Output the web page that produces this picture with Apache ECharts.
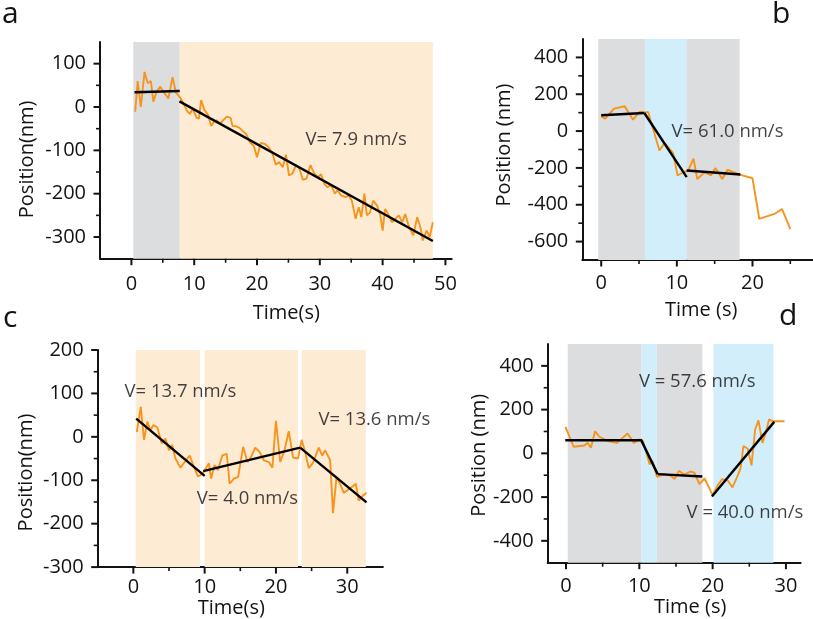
<!DOCTYPE html>
<html><head><meta charset="utf-8">
<script src="https://cdn.jsdelivr.net/npm/echarts@6/dist/echarts.min.js"></script>
<style>html,body{margin:0;padding:0;background:#fff}#c{width:813px;height:619px}</style>
</head><body><div id="c"></div>
<script>
// ---------- Panel a ----------
const aTime = [0.6,1.0,1.5,2.1,2.6,3.1,3.5,4.0,4.6,5.2,5.9,6.55,7.1,7.75,8.3,8.9,9.3,9.75,10.4,10.75,11.1,11.6,12.2,12.7,13.1,13.6,14.1,14.6,15.2,15.8,16.1,16.6,17.2,17.7,18.3,18.9,19.5,20.0,20.6,21.2,21.8,22.4,23.0,23.5,24.1,24.6,25.1,25.6,26.2,26.7,27.3,27.9,28.5,29.1,29.7,30.2,30.7,31.2,31.8,32.4,32.8,33.4,34.1,34.6,35.1,35.7,36.2,36.6,37.1,37.5,38.0,38.5,39.1,39.6,40.0,40.4,41.0,41.5,42.0,42.6,43.1,43.6,44.2,44.9,45.5,46.0,46.4,47.0,47.5,48.0];
const aPos  = [-11,60,0,81,55,60,12,35,47,33,20,69,33,22,8,-10,-16,-4,-25,-27,16,-6,-18,-44,-35,-31,-38,-31,-22,-25,-44,-44,-48,-55,-63,-82,-90,-116,-83,-85,-92,-105,-133,-127,-139,-110,-158,-154,-135,-140,-168,-165,-134,-153,-162,-155,-177,-185,-181,-200,-192,-204,-208,-204,-216,-258,-231,-254,-200,-250,-243,-216,-227,-247,-285,-235,-250,-266,-258,-250,-266,-247,-277,-296,-254,-277,-308,-285,-300,-266];
const aFits = [[[0.5,34],[7.7,37]], [[7.65,13],[48.0,-309]]];
const aGrayBands = [[0.3,7.7]];
const aOrangeBands = [[7.7,48.0]];
const aBlueBands = [];
const aLabels = [[35.8,-75,'V= 7.9 nm/s']];
const aXTicks = [0,10,20,30,40,50];
const aYTicks = [-300,-200,-100,0,100];

// ---------- Panel b ----------
const bTime = [0.0,0.5,1.7,3.1,4.2,5.1,5.6,6.2,7.7,8.4,9.5,10.1,10.8,11.5,12.2,12.7,13.7,14.5,15.1,16.0,16.7,18.3,20.0,20.9,22.9,23.9,25.0];
const bPos  = [80,67,122,135,62,106,100,104,-105,-65,-120,-241,-225,-214,-150,-260,-223,-241,-201,-260,-210,-236,-256,-477,-450,-423,-532];
const bFits = [[[0,86],[5.7,98]], [[5.7,98],[11.3,-250]], [[11.3,-214],[18.4,-236]]];
const bGrayBands = [[-0.4,5.8],[11.25,18.3]];
const bOrangeBands = [];
const bBlueBands = [[5.8,11.25]];
const bLabels = [[16.7,-5,'V= 61.0 nm/s']];
const bXTicks = [0,10,20];
const bYTicks = [-600,-400,-200,0,200,400];

// ---------- Panel c ----------
const cTime = [0.48,1.04,1.5,1.97,2.4,2.8,3.36,3.97,4.5,5.0,5.45,5.9,6.6,7.2,7.9,8.5,9.05,9.65,10.3,10.6,10.9,11.4,11.86,12.47,13.1,13.5,14.1,14.7,15.4,16.0,16.4,17.1,17.7,18.3,19.0,19.5,20.0,20.6,21.2,21.8,22.4,23.1,23.6,24.1,24.6,25.2,26.0,26.5,26.9,27.6,28.0,28.5,29.1,29.5,30.1,30.7,31.2,31.6,32.1,32.7];
const cPos  = [11,69,-7,35,15,27,22,-15,-4,-31,-19,-50,-71,-58,-43,-69,-91,-86,-69,-61,-96,-65,-77,-43,-39,-108,-96,-92,-23,-58,-50,-25,-35,-54,-58,-71,37,-58,-31,13,-48,-50,-7,-35,-72,-60,-25,-43,-31,-54,-176,-92,-112,-129,-122,-115,-108,-147,-137,-129];
const cFits = [[[0.4,42],[10.0,-90]], [[9.8,-79],[23.4,-25]], [[23.4,-25],[32.7,-151]]];
const cGrayBands = [];
const cOrangeBands = [[0.33,9.35],[10.0,23.1],[23.6,32.6]];
const cBlueBands = [];
const cLabels = [[6.6,104,'V= 13.7 nm/s'],[16.0,-142,'V= 4.0 nm/s'],[33.8,40,'V= 13.6 nm/s']];
const cXTicks = [0,10,20,30];
const cYTicks = [-300,-200,-100,0,100,200];

// ---------- Panel d ----------
const dTime = [-0.08,1.05,2.5,2.96,3.4,3.96,4.55,5.7,6.96,8.4,9.25,10.0,10.5,11.4,11.8,12.4,13.4,14.3,14.8,15.4,16.1,16.96,17.5,18.2,18.9,20.0,20.7,21.3,22.1,22.7,23.3,23.8,24.2,24.8,25.3,25.8,26.25,26.8,27.3,27.7,28.2,29.8];
const dPos  = [121,30,36,48,26,101,76,56,48,91,48,64,56,-50,-35,-107,-95,-103,-118,-80,-98,-83,-88,-141,-115,-191,-145,-118,-125,-156,-111,-70,33,21,-55,109,151,48,101,155,147,147];
const dFits = [[[-0.1,60],[10.2,60]], [[10.2,64],[12.5,-95]], [[12.5,-95],[18.6,-106]], [[19.9,-197],[28.4,144]]];
const dGrayBands = [[0.23,10.3],[12.4,18.6]];
const dOrangeBands = [];
const dBlueBands = [[10.3,12.4],[20.1,28.3]];
const dLabels = [[17.9,326,'V = 57.6 nm/s'],[24.4,-270,'V = 40.0 nm/s']];
const dXTicks = [0,10,20,30];
const dYTicks = [-400,-200,0,200,400];

const panelLetters = ['a','b','c','d'];

// ---------- styling / layout ----------
const FONT = "'Open Sans','Noto Sans',sans-serif";
const INK = '#141213';
const ORANGE = '#f7941d';
const C_GRAY = '#dcdddf', C_ORANGE = '#fdebd4', C_BLUE = '#d3eefb';

function midsExt(ticks, step, lo, hi){ const r=[]; for(let v=ticks[0]-step/2; v<hi; v+=step){ if(v>lo && !ticks.includes(v)) r.push(v);} return r; }

const panels = [
  {grid:{left:100,top:42,width:351.7,height:216.7}, xr:[-5,51], yr:[-350,150], xt:aXTicks, xs:10, yt:aYTicks, ys:100,
   xName:'Time(s)', yName:'Position(nm)', xGap:45, yGap:63, xMargin:16, xPad:[0,0,0,21], yPad:[0,18,0,0],
   time:aTime,pos:aPos,fits:aFits,labels:aLabels,gray:aGrayBands,orange:aOrangeBands,blue:aBlueBands},
  {grid:{left:582.3,top:39,width:231.2,height:221}, xr:[-2.5,28], yr:[-700,500], xt:bXTicks, xs:10, yt:bYTicks, ys:200,
   xName:'Time (s)', yName:'Position (nm)', xGap:40, yGap:68, xMargin:13, xPad:[0,0,0,7], yPad:[0,0,0,9],
   time:bTime,pos:bPos,fits:bFits,labels:bLabels,gray:bGrayBands,orange:bOrangeBands,blue:bBlueBands},
  {grid:{left:97.7,top:350,width:285.2,height:217.3}, xr:[-5,35], yr:[-300,200], xt:cXTicks, xs:10, yt:cYTicks, ys:100,
   xName:'Time(s)', yName:'Position(nm)', xGap:30, yGap:61, xMargin:10, xPad:[0,18,0,0], yPad:[0,28,0,0],
   time:cTime,pos:cPos,fits:cFits,labels:cLabels,gray:cGrayBands,orange:cOrangeBands,blue:cBlueBands},
  {grid:{left:547.7,top:344,width:252.9,height:218.7}, xr:[-2.5,32], yr:[-500,500], xt:dXTicks, xs:10, yt:dYTicks, ys:200,
   xName:'Time (s)', yName:'Position (nm)', xGap:35, yGap:55, xMargin:14, xPad:[0,0,0,32], yPad:[0,4,0,0],
   time:dTime,pos:dPos,fits:dFits,labels:dLabels,gray:dGrayBands,orange:dOrangeBands,blue:dBlueBands}
];

const grid=[], xAxis=[], yAxis=[], series=[];
panels.forEach((p,i)=>{
  grid.push(Object.assign({containLabel:false}, p.grid));
  const lineStyle = {color:INK, width:2};
  xAxis.push({type:'value', gridIndex:i, position:'bottom', min:p.xr[0], max:p.xr[1],
    name:p.xName, nameLocation:'middle', nameGap:p.xGap,
    nameTextStyle:{fontFamily:FONT,fontSize:20,color:INK,padding:p.xPad},
    axisLine:{show:true,onZero:false,lineStyle}, splitLine:{show:false}, axisTick:{show:false},
    axisLabel:{fontFamily:FONT,fontSize:20,color:INK,margin:p.xMargin,customValues:p.xt}});
  yAxis.push({type:'value', gridIndex:i, position:'left', min:p.yr[0], max:p.yr[1],
    name:p.yName, nameLocation:'middle', nameGap:p.yGap,
    nameTextStyle:{fontFamily:FONT,fontSize:20,color:INK,padding:p.yPad},
    axisLine:{show:true,onZero:false,lineStyle}, splitLine:{show:false}, axisTick:{show:false},
    axisLabel:{fontFamily:FONT,fontSize:20,color:INK,margin:14,customValues:p.yt}});
});

panels.forEach((p,i)=>{
  const areas=[];
  [[p.gray,C_GRAY],[p.orange,C_ORANGE],[p.blue,C_BLUE]].forEach(([arr,col])=>{
    arr.forEach(b=>areas.push([{xAxis:b[0],itemStyle:{color:col,opacity:1}},{xAxis:b[1]}]));
  });
  series.push({type:'line', xAxisIndex:i, yAxisIndex:i, z:2,
    data:p.time.map((t,k)=>[t,p.pos[k]]), showSymbol:false, symbol:'none',
    lineStyle:{color:ORANGE,width:1.9}, silent:true,
    markArea:{silent:true, data:areas, label:{show:false}}});
  p.fits.forEach(seg=>{
    series.push({type:'line', xAxisIndex:i, yAxisIndex:i, z:3, data:seg, showSymbol:false, symbol:'none',
      lineStyle:{color:'#000',width:2.4}, silent:true});
  });
  series.push({type:'scatter', xAxisIndex:i, yAxisIndex:i, z:4, symbolSize:1, itemStyle:{color:'transparent'},
    data:p.labels, silent:true,
    label:{show:true, position:'inside', formatter:q=>q.data[2], fontFamily:FONT, fontSize:18.5, color:INK}});
});

const letterPos = [[2,16],[772,16],[3,320],[779,318]];
const graphic = panelLetters.map((L,i)=>({type:'text', left:letterPos[i][0], top:letterPos[i][1]-17,
  style:{text:L, font:"30px 'Open Sans', sans-serif", fill:INK}}));

const chart = echarts.init(document.getElementById('c'), null, {renderer:'canvas'});
chart.setOption({animation:false, backgroundColor:'#fff', grid, xAxis, yAxis, series, graphic});

// tick marks, placed through the axes' own scales
const ticks=[];
panels.forEach((p,i)=>{
  const y0 = chart.convertToPixel({yAxisIndex:i}, p.yr[0]);
  const x0 = chart.convertToPixel({xAxisIndex:i}, p.xr[0]);
  const addX=(vals,len,w)=>vals.forEach(v=>{ const x=chart.convertToPixel({xAxisIndex:i}, v);
    ticks.push({type:'line', silent:true, z:10, shape:{x1:x,y1:y0,x2:x,y2:y0+len}, style:{stroke:INK,lineWidth:w}}); });
  const addY=(vals,len,w)=>vals.forEach(v=>{ const y=chart.convertToPixel({yAxisIndex:i}, v);
    ticks.push({type:'line', silent:true, z:10, shape:{x1:x0-len,y1:y,x2:x0,y2:y}, style:{stroke:INK,lineWidth:w}}); });
  addX(p.xt,6.5,2); addY(p.yt,6.5,2);
  addX(midsExt(p.xt,p.xs,p.xr[0],p.xr[1]),4,1.6); addY(midsExt(p.yt,p.ys,p.yr[0],p.yr[1]),4,1.6);
});
chart.setOption({graphic: graphic.concat(ticks)});
</script></body></html>
